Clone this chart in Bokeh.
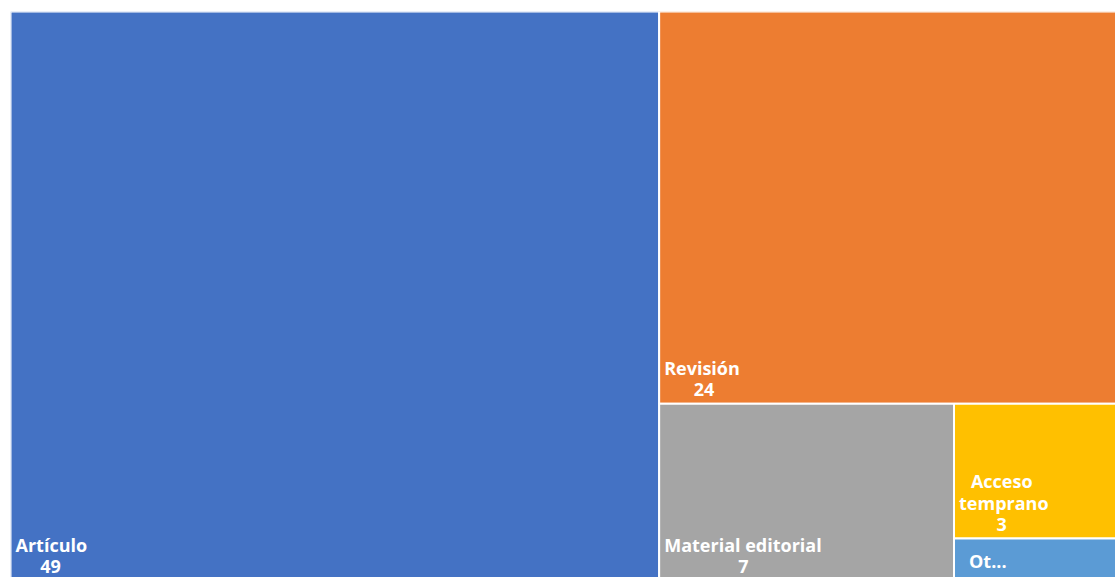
from bokeh.plotting import figure
from bokeh.models import Range1d, ColumnDataSource
from bokeh.core.properties import value
from bokeh.embed import file_html
from bokeh.resources import INLINE

# ---- data ----
names = ["Artículo", "Revisión", "Material editorial", "Acceso temprano", "Otros"]
display_names = ["Artículo", "Revisión", "Material editorial", "Acceso\ntemprano", "Ot..."]
values = [49, 24, 7, 3, 1]
colors = ["#4472C4", "#ED7D31", "#A5A5A5", "#FFC000", "#5B9BD5"]

# ---- layout (pixel-like data units; treemap extends beyond visible frame like the reference) ----
VIS_W, VIS_H = 1105, 566
TM_W, TM_H = 1112, 572
PAD = 5
LINE_H = 22
FONT_PX = 18


def slice_layout(vals, x0, y0, w, h):
    rects = []
    remaining = float(sum(vals))
    for v in vals:
        if remaining == v:
            rects.append((x0, y0, w, h))
            break
        frac = v / remaining
        if w >= h:
            rw = w * frac
            rects.append((x0, y0, rw, h))
            x0 += rw
            w -= rw
        else:
            rh = h * frac
            rects.append((x0, y0, w, rh))
            y0 += rh
            h -= rh
        remaining -= v
    return rects


def est_width(s):
    total = 0.0
    for ch in s:
        if ch in "iíltrfj.I ":
            total += 0.35
        elif ch in "mwMW":
            total += 0.95
        else:
            total += 0.62
    return total * FONT_PX


rects = slice_layout(values, 0.0, 0.0, TM_W, TM_H)

src = ColumnDataSource(dict(
    left=[r[0] for r in rects],
    right=[r[0] + r[2] for r in rects],
    top=[r[1] for r in rects],
    bottom=[r[1] + r[3] for r in rects],
    color=colors,
    name=names,
    val=values,
))

p = figure(width=1115, height=577,
           x_range=Range1d(0, VIS_W), y_range=Range1d(VIS_H, 0),
           output_backend="svg", toolbar_location=None,
           min_border_left=10, min_border_top=11, min_border_right=0, min_border_bottom=0)
p.axis.visible = False
p.grid.visible = False
p.outline_line_color = None
p.background_fill_color = "white"
p.border_fill_color = "white"

p.quad(left="left", right="right", top="top", bottom="bottom", source=src,
       fill_color="color", line_color="white", line_width=2)

# ---- labels ----
tx, ty, tt, ta = [], [], [], []
for (x0, y0, w, h), disp, v in zip(rects, display_names, values):
    lines = disp.split("\n") + [str(v)]
    needed = LINE_H * len(lines) + 10
    if h < needed:
        # too small: only the truncated name, vertically centred
        tx.append(x0 + 15)
        ty.append(y0 + h / 2)
        tt.append(disp)
        ta.append("left")
        continue
    widest = max(lines, key=est_width)
    cx = x0 + PAD + est_width(widest) / 2
    ybot = min(y0 + h - 14, VIS_H - 11)
    n = len(lines)
    for i, line in enumerate(lines):
        yy = ybot - (n - 1 - i) * LINE_H
        if line == widest:
            tx.append(x0 + PAD)
            ta.append("left")
        else:
            tx.append(cx)
            ta.append("center")
        ty.append(yy)
        tt.append(line)

lsrc = ColumnDataSource(dict(x=tx, y=ty, text=tt, align=ta))
p.text(x="x", y="y", text="text", source=lsrc, text_align="align",
       text_baseline="middle", text_color="white",
       text_font=value("Open Sans"), text_font_size=f"{FONT_PX}px",
       text_font_style="bold")

open("out.html", "w").write(file_html(p, INLINE))
